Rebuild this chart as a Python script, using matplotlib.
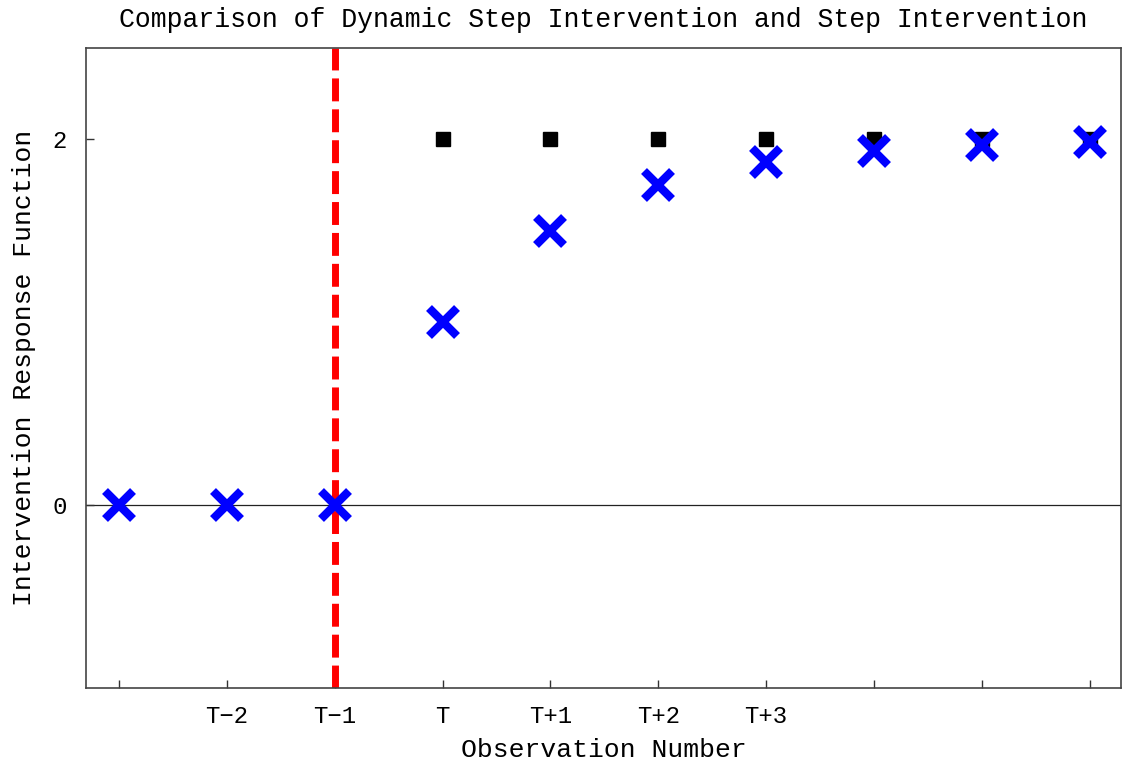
import matplotlib
matplotlib.use("Agg")
import matplotlib.pyplot as plt

obs = [1, 2, 3, 4, 5, 6, 7, 8, 9, 10]
tick_labels = ["", "T\u22122", "T\u22121", "T", "T+1", "T+2", "T+3", "", "", ""]
step_x = [4, 5, 6, 7, 8, 9, 10]
step_y = [2, 2, 2, 2, 2, 2, 2]
dynamic_y = [0, 0, 0, 1, 1.5, 1.75, 1.875, 1.9375, 1.96875, 1.984375]
intervention_x = 3

plt.rcParams['font.family'] = ['Liberation Mono', 'DejaVu Sans Mono']

fig = plt.figure(figsize=(11.23, 7.68), dpi=100)
ax = fig.add_axes([86/1123, 1 - 688/768, (1121 - 86)/1123, (688 - 48)/768])

ax.axhline(0, color='#222222', lw=0.9, zorder=1)
ax.axvline(intervention_x, color='#ff0000', lw=5, dashes=(3.3, 1.15), zorder=2)
ax.plot(step_x, step_y, linestyle='none', marker='s', ms=9.5, color='black', zorder=3)
ax.plot(obs, dynamic_y, linestyle='none', marker='x', ms=20, mew=6, color='#0000ff', zorder=4)

ax.set_xlim(0.695, 10.29)
ax.set_ylim(-1, 2.5)
ax.set_xticks(obs)
ax.set_xticklabels(tick_labels, fontsize=17.3)
ax.set_yticks([0, 2])
ax.set_yticklabels(["0", "2"], fontsize=17.3)
ax.tick_params(axis='x', direction='in', length=6, width=1, color='#333333', pad=12.5, top=False)
ax.tick_params(axis='y', direction='in', length=6, width=1, color='#333333', pad=14, right=False)
for s in ax.spines.values():
    s.set_color('#444444')
    s.set_linewidth(1.2)

ax.set_title("Comparison of Dynamic Step Intervention and Step Intervention", fontsize=19.1, pad=15)
ax.set_xlabel("Observation Number", fontsize=19, labelpad=7)
ax.set_ylabel("Intervention Response Function", fontsize=19, labelpad=12)

fig.savefig("out.png", dpi=100)
